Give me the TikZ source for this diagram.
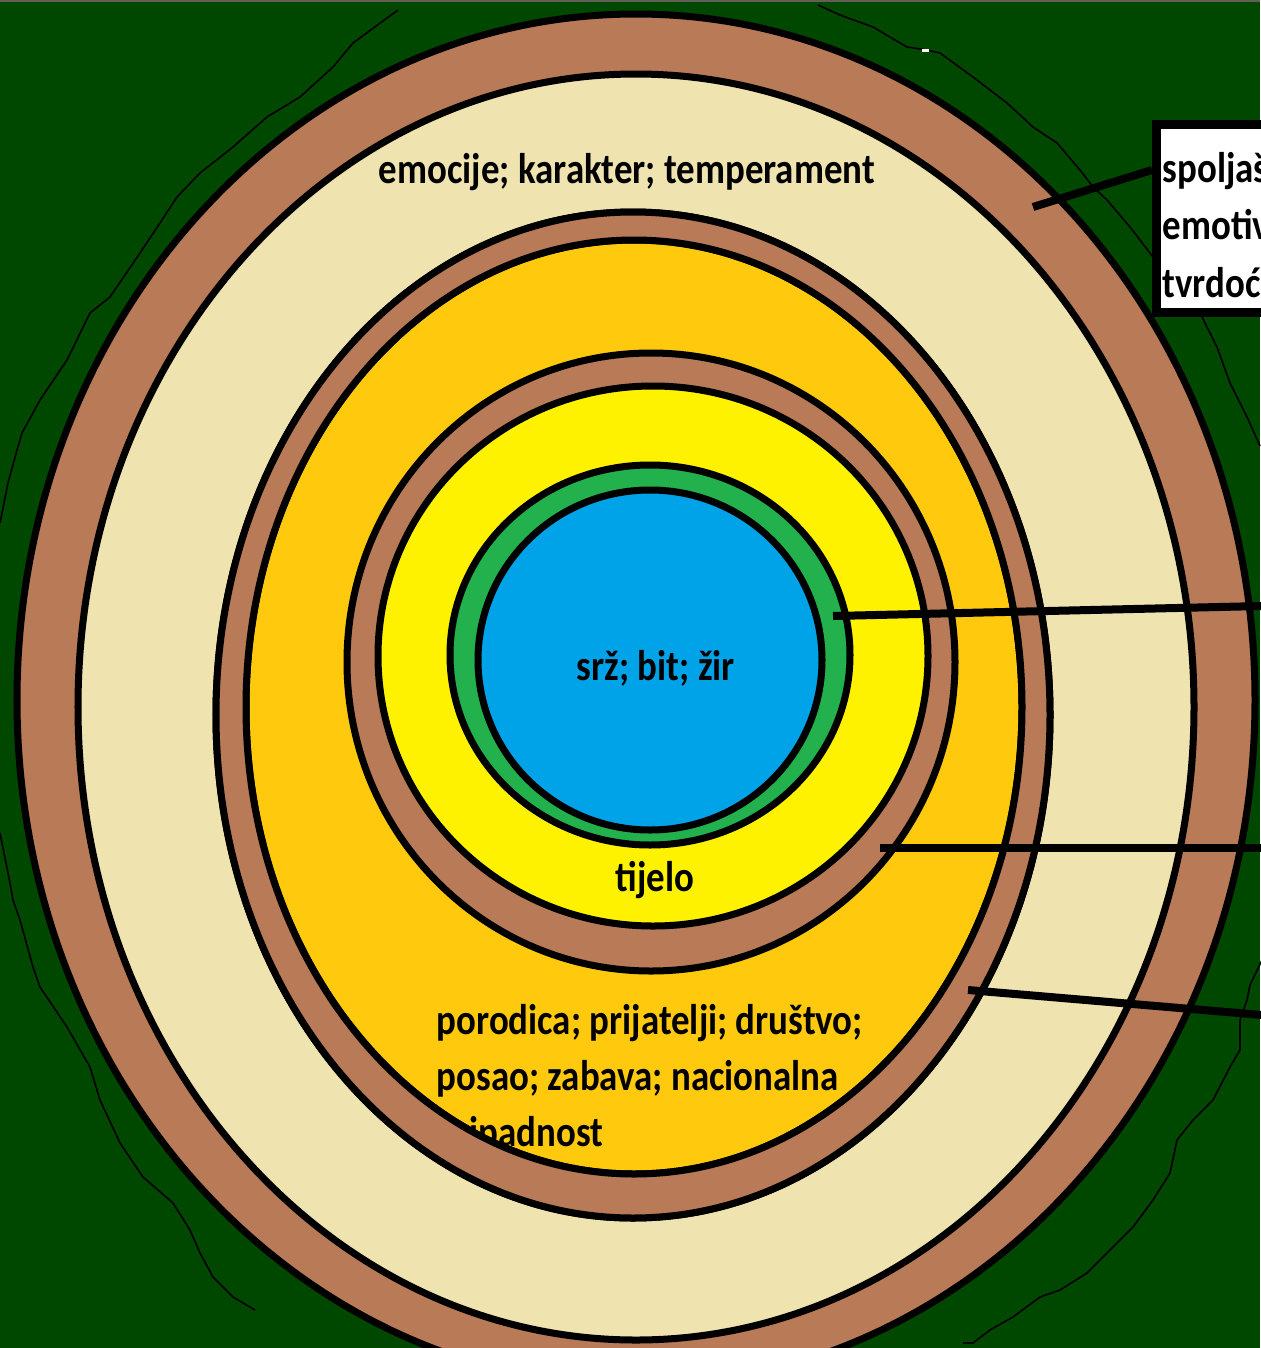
\documentclass[tikz,border=0pt]{standalone}
\usepackage{fontspec}
\setmainfont{Carlito}[FakeStretch=0.86]
\definecolor{bgreen}{RGB}{0,71,0}
\definecolor{topgray}{RGB}{96,96,88}
\definecolor{bark}{RGB}{185,122,87}
\definecolor{cream}{RGB}{239,228,176}
\definecolor{gold}{RGB}{255,201,14}
\definecolor{lemon}{RGB}{255,242,0}
\definecolor{leaf}{RGB}{34,177,76}
\definecolor{sky}{RGB}{0,162,232}
\tikzset{
  ringline/.style={draw=black, line width=0.07cm},
  treeline/.style={draw=black, line width=0.016cm, line join=round},
  conn/.style={draw=black, line width=0.08cm},
  lbl/.style={inner sep=0pt, font=\fontsize{12.2}{16}\selectfont\bfseries, text=black},
  boxframe/.style={draw=black, line width=0.09cm, fill=white, inner sep=0pt}
}
\begin{document}
\begin{tikzpicture}[x=0.01cm,y=-0.01cm]
\useasboundingbox (0,0) rectangle (1260,1348);
\fill[bgreen] (0,0) rectangle (1260,1348);
\fill[topgray] (0,0) rectangle (1260,2);
% thin tree outlines
\draw[treeline] (398,10) -- (353,43) -- (333,67) -- (300,97) -- (267,117) -- (233,147) -- (200,173) -- (177,197) -- (160,223) -- (140,253) -- (110,297) -- (90,313) -- (67,360) -- (40,400) -- (22,433) -- (17,450) -- (8,483) -- (0,523);
\draw[treeline] (0,833) -- (10,883) -- (13,900) -- (20,920) -- (33,967) -- (40,987) -- (67,1027) -- (90,1067) -- (100,1100) -- (120,1143) -- (143,1177) -- (173,1203) -- (190,1230) -- (200,1253) -- (213,1277) -- (233,1297) -- (255,1310);
\draw[treeline] (818,5) -- (840,15) -- (873,27) -- (907,47) -- (927,50) -- (940,53) -- (973,77) -- (1007,103) -- (1033,127) -- (1057,143) -- (1080,170) -- (1093,187) -- (1107,200) -- (1130,227) -- (1150,253) -- (1170,280);
\draw[treeline] (1190,300) -- (1200,313) -- (1217,347) -- (1230,383) -- (1247,417) -- (1260,446);
\draw[treeline] (1262,960) -- (1250,985) -- (1247,1000) -- (1240,1020) -- (1240,1050) -- (1230,1067) -- (1213,1100) -- (1193,1120) -- (1177,1140) -- (1170,1173) -- (1153,1200) -- (1133,1227) -- (1113,1247) -- (1087,1273) -- (1060,1290) -- (1040,1297) -- (1013,1317) -- (990,1330) -- (973,1343) -- (963,1343);
\fill[white] (922,49) rectangle (929,52);
% rings
\path[ringline, fill=bark]  (636,700) ellipse [x radius=619, y radius=686];
\path[ringline, fill=cream] (636,707) ellipse [x radius=558, y radius=633];
\path[ringline, fill=bark]  (633,715) ellipse [x radius=417, y radius=503];
\path[ringline, fill=gold]  (634,707) ellipse [x radius=388, y radius=467];
\path[ringline, fill=bark]  (651,662) ellipse [x radius=304, y radius=309];
\path[ringline, fill=lemon] (653,656) ellipse [x radius=275, y radius=270];
\path[ringline, fill=leaf]  (650,655) ellipse [x radius=200, y radius=190];
\path[ringline, fill=sky]   (650,660) ellipse [x radius=172, y radius=170];
% texts
\node[lbl, anchor=base] (emo) at (627,183) {emocije; karakter; temperament};
\node[lbl, anchor=base] (srz) at (656,680) {srž; bit; žir};
\node[lbl, anchor=base] (tij) at (655,891) {tijelo};
\node[lbl, anchor=base west] (por1) at (436,1034) {porodica; prijatelji; društvo;};
\node[lbl, anchor=base west] (por2) at (436,1090) {posao; zabava; nacionalna};
\node[lbl, anchor=base west] (por3) at (436,1146) {pripadnost};
% ring drawn over the last text line
\fill[bark, even odd rule] (633,715) ellipse [x radius=417, y radius=503] (634,707) ellipse [x radius=388, y radius=467];
\draw[ringline] (633,715) ellipse [x radius=417, y radius=503];
\draw[ringline] (634,707) ellipse [x radius=388, y radius=467];
% connector end points
\coordinate (a1) at (1033,207);
\coordinate (a2) at (833,616);
\coordinate (b2) at (1262,606);
\coordinate (a3) at (880,848);
\coordinate (b3) at (1262,848);
\coordinate (a4) at (968,990);
\coordinate (b4) at (1262,1015);
\draw[conn] (a2) -- (b2);
\draw[conn] (a3) -- (b3);
\draw[conn] (a4) -- (b4);
% box
\node[boxframe, anchor=north west, minimum width=3cm, minimum height=1.88cm] (box) at (1152,120) {};
\draw[conn] (box.west |- 0,170) -- (a1);
\node[lbl, anchor=base west] (bx1) at (1162,182) {spoljaš};
\node[lbl, anchor=base west] (bx2) at (1162,239) {emotiv};
\node[lbl, anchor=base west] (bx3) at (1162,297) {tvrdoć};
\end{tikzpicture}
\end{document}
